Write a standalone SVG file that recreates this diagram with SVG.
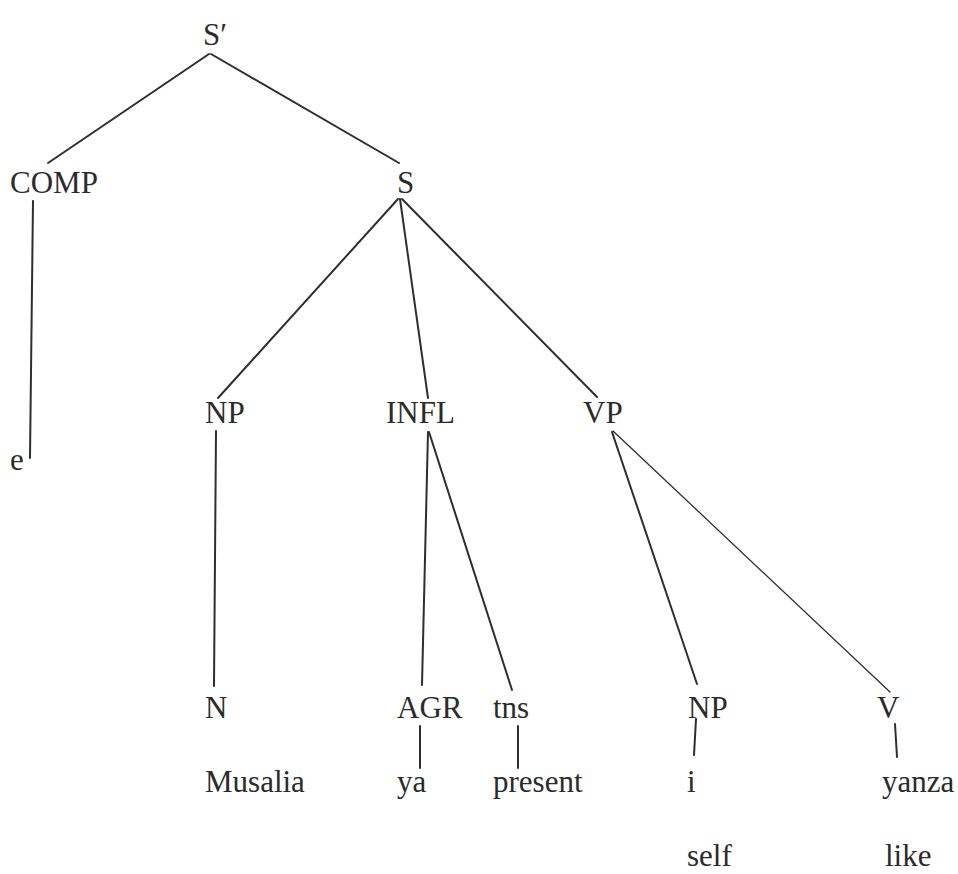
<svg xmlns="http://www.w3.org/2000/svg" width="958" height="874" viewBox="0 0 958 874">
<style>
.t{font-family:"Liberation Serif","Times New Roman",serif;font-size:31px;fill:#2b2b2b}
.e{stroke:#2e2e2e;stroke-width:2;fill:none;stroke-linecap:round}
.thin{stroke-width:1.3}
</style>
<rect width="958" height="874" fill="#ffffff"/>
<g id="connectors">
<line class="e" x1="209" y1="54" x2="48" y2="163"/>
<line class="e" x1="211" y1="54" x2="399" y2="163"/>
<line class="e" x1="33" y1="201" x2="30" y2="458"/>
<line class="e" x1="398" y1="199" x2="218" y2="398"/>
<line class="e" x1="400" y1="199" x2="428" y2="398"/>
<line class="e" x1="402" y1="199" x2="597" y2="397"/>
<line class="e" x1="216" y1="431" x2="214" y2="686"/>
<line class="e" x1="428" y1="432" x2="422" y2="685"/>
<line class="e" x1="429" y1="432" x2="512" y2="690"/>
<line class="e" x1="612" y1="432" x2="697" y2="684"/>
<line class="e thin" x1="613" y1="431" x2="890" y2="692"/>
<line class="e" x1="420" y1="726" x2="420" y2="768"/>
<line class="e" x1="518" y1="726" x2="518" y2="768"/>
<line class="e" x1="696" y1="719" x2="694" y2="755"/>
<line class="e" x1="895" y1="724" x2="897" y2="757"/>
</g>
<g id="n-sbar"><text class="t" x="203" y="45">S′</text></g>
<g id="n-comp"><text class="t" x="10" y="193">COMP</text></g>
<g id="n-s"><text class="t" x="397" y="193">S</text></g>
<g id="n-e"><text class="t" x="10" y="470">e</text></g>
<g id="n-np"><text class="t" x="205" y="423">NP</text></g>
<g id="n-infl"><text class="t" x="386" y="423">INFL</text></g>
<g id="n-vp"><text class="t" x="583" y="423">VP</text></g>
<g id="n-n"><text class="t" x="205" y="718">N</text></g>
<g id="n-agr"><text class="t" x="397" y="718">AGR</text></g>
<g id="n-tns"><text class="t" x="493" y="718">tns</text></g>
<g id="n-np2"><text class="t" x="688" y="718">NP</text></g>
<g id="n-v"><text class="t" x="877" y="718">V</text></g>
<g id="n-musalia"><text class="t" x="205" y="792">Musalia</text></g>
<g id="n-ya"><text class="t" x="397" y="792">ya</text></g>
<g id="n-present"><text class="t" x="493" y="792">present</text></g>
<g id="n-i"><text class="t" x="687" y="792">i</text></g>
<g id="n-yanza"><text class="t" x="882" y="792">yanza</text></g>
<g id="n-self"><text class="t" x="687" y="866">self</text></g>
<g id="n-like"><text class="t" x="885" y="866">like</text></g>
</svg>
